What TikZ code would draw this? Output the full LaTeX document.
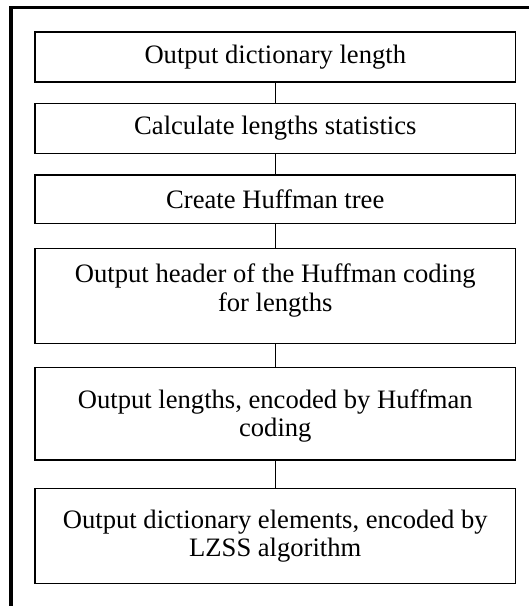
\documentclass[tikz,border=0pt]{standalone}
\usepackage{fontspec}
\setmainfont{Liberation Serif}
\begin{document}
\begin{tikzpicture}[x=1pt,y=-1pt,
  txt/.style={align=center,font=\fontsize{26.6}{28.3}\selectfont,inner sep=0pt},
  stepbox/.style={draw=black,line width=1.3pt,rectangle,minimum width=480.7pt,inner sep=0pt,txt},
  link/.style={draw=black,line width=1.3pt}]
\useasboundingbox (0,0) rectangle (529,606);
\fill[white] (0,0) rectangle (529,606);
\draw[line width=3.4pt] (529,7.7) -- (11,7.7) -- (11,606);
\node[stepbox,minimum height=50pt] (b1) at (275.3,57) {Output dictionary length};
\node[stepbox,minimum height=50pt] (b2) at (275.3,128.3) {Calculate lengths statistics};
\node[stepbox,minimum height=48.3pt] (b3) at (275.3,199.2) {Create Huffman tree};
\node[stepbox,minimum height=95pt] (b4) at (275.3,295.8) {};
\node[txt] (t4) at (275.3,290.5) {Output header of the Huffman coding\\for lengths};
\node[stepbox,minimum height=92.3pt] (b5) at (275.3,413.8) {};
\node[txt] (t5) at (275.3,416) {Output lengths, encoded by Huffman\\coding};
\node[stepbox,minimum height=95pt] (b6) at (275.3,535.8) {Output dictionary elements, encoded by\\LZSS algorithm};
\draw[link] (b1.south) -- (b2.north);
\draw[link] (b2.south) -- (b3.north);
\draw[link] (b3.south) -- (b4.north);
\draw[link] (b4.south) -- (b5.north);
\draw[link] (b5.south) -- (b6.north);
\end{tikzpicture}
\end{document}
